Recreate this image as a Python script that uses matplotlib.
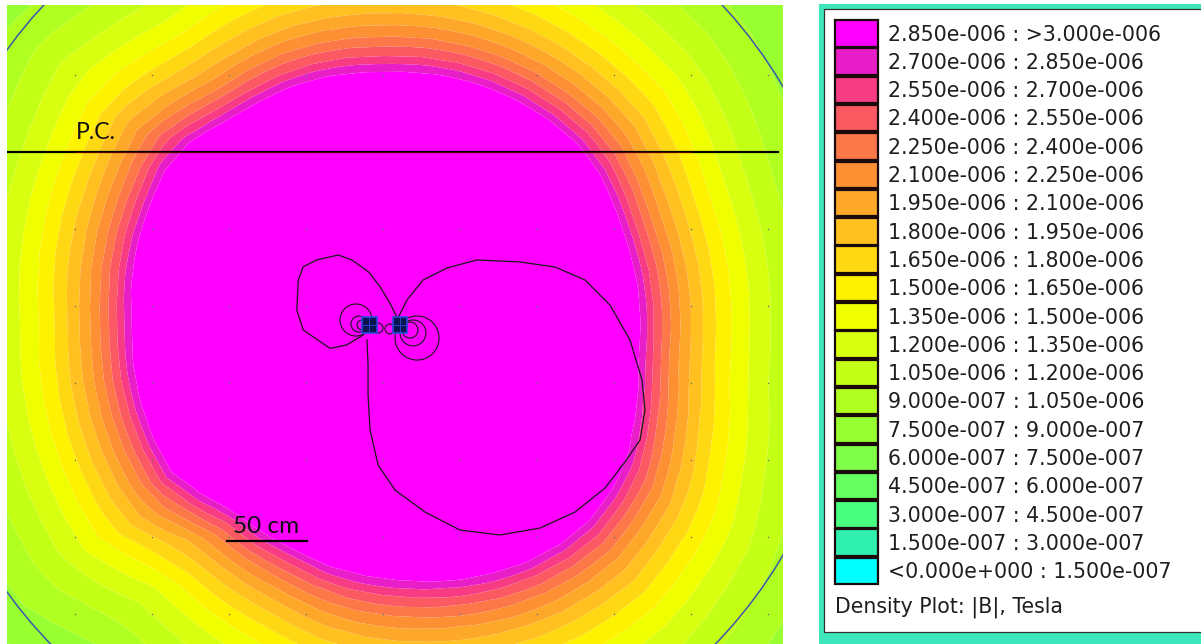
import numpy as np
import matplotlib
matplotlib.use("Agg")
import matplotlib.pyplot as plt
import matplotlib.tri as mtri
from matplotlib.patches import Rectangle, Circle

# ---------------- data ----------------
# lower bounds of the density bands (Tesla), top of legend to bottom
band_lower = [2.85e-6, 2.70e-6, 2.55e-6, 2.40e-6, 2.25e-6, 2.10e-6, 1.95e-6,
              1.80e-6, 1.65e-6, 1.50e-6, 1.35e-6, 1.20e-6, 1.05e-6, 9.0e-7,
              7.5e-7, 6.0e-7, 4.5e-7, 3.0e-7, 1.5e-7, 0.0]
band_labels = ["2.850e-006 : >3.000e-006", "2.700e-006 : 2.850e-006",
               "2.550e-006 : 2.700e-006", "2.400e-006 : 2.550e-006",
               "2.250e-006 : 2.400e-006", "2.100e-006 : 2.250e-006",
               "1.950e-006 : 2.100e-006", "1.800e-006 : 1.950e-006",
               "1.650e-006 : 1.800e-006", "1.500e-006 : 1.650e-006",
               "1.350e-006 : 1.500e-006", "1.200e-006 : 1.350e-006",
               "1.050e-006 : 1.200e-006", "9.000e-007 : 1.050e-006",
               "7.500e-007 : 9.000e-007", "6.000e-007 : 7.500e-007",
               "4.500e-007 : 6.000e-007", "3.000e-007 : 4.500e-007",
               "1.500e-007 : 3.000e-007", "<0.000e+000 : 1.500e-007"]
band_colors = ["#ff00ff", "#e81ec8", "#f83c84", "#fc5a62", "#fd7848",
               "#fe9034", "#fea82a", "#ffc020", "#ffd814", "#fff200",
               "#f0ff00", "#d8ff10", "#c4ff16", "#b0ff20", "#98ff30",
               "#80ff48", "#66ff60", "#48ff80", "#30f0b0", "#00ffff"]
legend_title = "Density Plot: |B|, Tesla"

# outline of the saturated (>2.85e-6 T) region: direction (deg) and radius (cm)
sat_angle_deg = [0, 22, 40, 90, 109, 126, 141, 152, 180, 217, 229, 249,
                 258, 274, 300, 314, 329, 340, 352]
sat_radius_cm = [166, 166, 172, 164, 166, 166, 176, 171, 164, 168, 155, 157,
                 161, 166, 179, 184, 181, 173, 166]
# fall-off exponent of |B| outside that region, by direction
decay_angle_deg = [0, 45, 90, 135, 180, 225, 270, 315]
decay_power = [2.1, 2.0, 1.8, 2.0, 2.05, 2.0, 1.75, 2.0]
field_center = (1.0, 37.7)

# conductors (cm)
cond_x = [-9.0, 11.0]
cond_y = [37.7, 37.7]

# flux lines (cm)
loop_left_x = [-12.8, -23.6, -34.4, -51.8, -56.0, -55.0, -51.8, -43.1, -29.0,
               -20.3, -9.5, -1.9, 4.5, 8.9]
loop_left_y = [31.2, 24.7, 22.5, 34.4, 47.4, 66.9, 75.5, 79.9, 83.1, 79.9,
               72.3, 62.5, 51.8, 43.1]
loop_right_x = [9.7, 15.6, 26.0, 41.6, 61.0, 89.0, 111.7, 131.2, 147.4, 160.4,
                168.2, 170.1, 166.9, 157.1, 144.2, 124.7, 101.9, 76.0, 50.0,
                27.3, 7.8, -3.2, -8.4, -9.7, -9.7, -10.4]
loop_right_y = [42.2, 53.9, 66.9, 74.7, 79.9, 78.6, 75.3, 66.9, 50.6, 27.9,
                1.9, -17.5, -37.0, -51.3, -68.2, -83.8, -94.2, -98.7, -95.5,
                -83.8, -69.5, -53.2, -30.5, -7.8, 11.7, 27.9]
small_loop_x = [-17.5, -15.6, -13.6, 22.1, 19.5, 17.5, -3.2, 4.5]
small_loop_y = [40.9, 38.3, 37.7, 29.2, 32.5, 34.4, 35.7, 35.1]
small_loop_r = [10.4, 5.2, 3.2, 14.3, 8.4, 5.2, 3.2, 3.2]

# problem boundary, grid, annotations (cm)
boundary_center = (0.0, 40.3)
boundary_radius = 301.0
grid_x = [-200, -150, -100, -50, 0, 50, 100, 150, 200, 250]
grid_y = [-150, -100, -50, 0, 50, 100, 150, 200]
pc_line_y = 150.0
scale_bar_x = [-101.5, -49.5]
scale_bar_y = -102.4

# ---------------- figure ----------------
W, H = 1201, 644
fig = plt.figure(figsize=(W / 100, H / 100), dpi=100)
fig.patch.set_facecolor("white")

x0_px, x1_px, y0_px, y1_px = 7.3, 782.7, 5.0, 644.0
ax = fig.add_axes([x0_px / W, 1 - y1_px / H, (x1_px - x0_px) / W, (y1_px - y0_px) / H])
s = 1.54  # px per cm
ax.set_xlim((x0_px - 383) / s, (x1_px - 383) / s)
ax.set_ylim((383 - y1_px) / s, (383 - y0_px) / s)
ax.set_axis_off()

# mesh (polar rings, like a coarse FE mesh)
px_, py_ = [field_center[0]], [field_center[1]]
for k, r in enumerate(np.arange(7, 470, 13.0)):
    n = max(8, int(2 * np.pi * r / 24))
    a = (np.arange(n) + 0.5 * (k % 2)) * 2 * np.pi / n
    px_.extend(field_center[0] + r * np.cos(a))
    py_.extend(field_center[1] + r * np.sin(a))
px_ = np.array(px_)
py_ = np.array(py_)
tri = mtri.Triangulation(px_, py_)

dx = px_ - field_center[0]
dy = py_ - field_center[1]
rr = np.maximum(np.hypot(dx, dy), 1.0)
th = np.degrees(np.arctan2(dy, dx)) % 360
R0 = np.interp(th, sat_angle_deg, sat_radius_cm, period=360)
pw = np.interp(th, decay_angle_deg, decay_power, period=360)
B = 2.85e-6 * (R0 / rr) ** pw

bounds = sorted(band_lower) + [1.0]
cols = band_colors[::-1]
ax.tricontourf(tri, B, levels=bounds, colors=cols, antialiased=True, zorder=1)

# boundary circle
ax.add_patch(Circle(boundary_center, boundary_radius, fill=False,
                    edgecolor="#3c58ac", lw=1.1, zorder=3))

# grid points
gx, gy = np.meshgrid(grid_x, grid_y)
ax.scatter(gx.ravel(), gy.ravel(), s=1.2, color="#707070", lw=0, zorder=3)

# flux lines
ax.plot(loop_left_x, loop_left_y, color="#1a1a1a", lw=0.9, zorder=4)
ax.plot(loop_right_x, loop_right_y, color="#1a1a1a", lw=0.9, zorder=4)
for cx, cy, r in zip(small_loop_x, small_loop_y, small_loop_r):
    ax.add_patch(Circle((cx, cy), r, fill=False, edgecolor="#1a1a1a", lw=0.8, zorder=4))

# conductors
for cx, cy in zip(cond_x, cond_y):
    ax.add_patch(Rectangle((cx - 4.8, cy - 5.0), 9.6, 10.0, facecolor="#0a1550",
                           edgecolor="#2a48e0", lw=1.2, zorder=5))
    ax.plot([cx - 4.8, cx + 4.8], [cy, cy], color="#2a48e0", lw=0.6, zorder=6)
    ax.plot([cx, cx], [cy - 5, cy + 5], color="#2a48e0", lw=0.6, zorder=6)

# P.C. line
xl = ax.get_xlim()
ax.plot([xl[0], (778 - 383) / s], [pc_line_y, pc_line_y], color="black", lw=1.6, zorder=7)
ax.plot([-200, 200], [pc_line_y + 0.3, pc_line_y + 0.3], color="#7a0000", lw=0.5, zorder=8)
ax.text(-199.4, 158.2, "P.C.", fontsize=16.5, family="Lato", color="#111111",
        ha="left", va="baseline", zorder=9)

# scale bar
ax.plot(scale_bar_x, [scale_bar_y, scale_bar_y], color="black", lw=1.6, zorder=9)
ax.text(-97.6, -97.4, "50 cm", fontsize=17.5, family="Lato", color="#111111",
        ha="left", va="baseline", zorder=9)

# ---------------- legend panel ----------------
lg = fig.add_axes([0, 0, 1, 1], facecolor="none")
lg.set_xlim(0, W)
lg.set_ylim(H, 0)
lg.set_axis_off()
lg.add_patch(Rectangle((819, 4), W - 819 + 2, H - 4 + 2, facecolor="#3ee6bc",
                       edgecolor="none"))
lg.add_patch(Rectangle((823.5, 9), W - 823.5 + 5, 632 - 9, facecolor="white",
                       edgecolor="#303030", lw=0.9))
pitch = 28.3
for i, (lab, col) in enumerate(zip(band_labels, band_colors)):
    top = 20 + pitch * i
    lg.add_patch(Rectangle((835, top), 43, 26.5, facecolor=col,
                           edgecolor="#1a0a0a", lw=1.6))
    lg.text(888, top + 14.5, lab, fontsize=14.8, family="DejaVu Sans",
            color="#1e1e1e", ha="left", va="center")
lg.text(835, 607, legend_title, fontsize=14.8, family="DejaVu Sans",
        color="#1e1e1e", ha="left", va="center")

fig.savefig("out.png", dpi=100, facecolor="white")
